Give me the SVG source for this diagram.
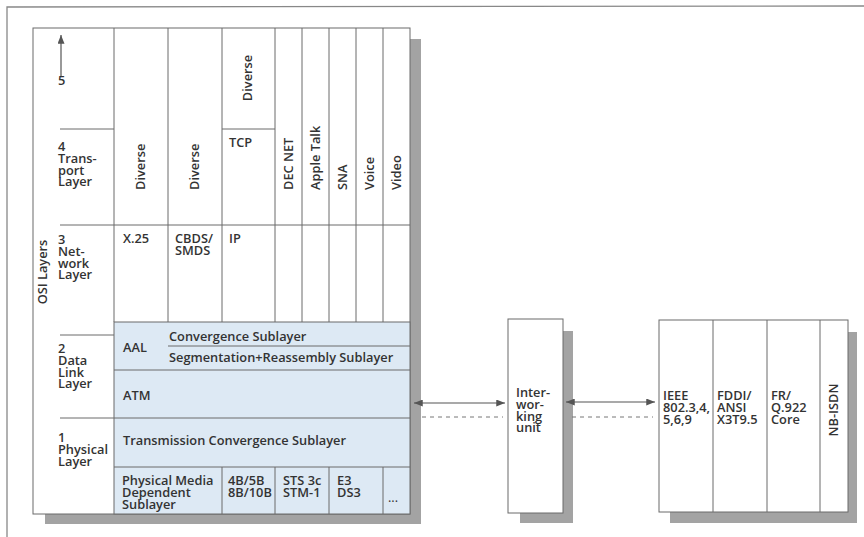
<svg xmlns="http://www.w3.org/2000/svg" width="864" height="537" viewBox="0 0 864 537">
<defs>
<style>
.t{font-family:"Open Sans","Liberation Sans",sans-serif;font-size:12.8px;fill:#333;font-weight:600}
.ln{stroke:#6a6a6a;stroke-width:1;fill:none}
.box{fill:#fff;stroke:#6a6a6a;stroke-width:1}
.blue{fill:#dde9f4;stroke:#6a6a6a;stroke-width:1}
.sh{fill:#a3a3a3}
.con{stroke:#555;stroke-width:1.2;fill:none}
.dash{stroke:#777;stroke-width:1;stroke-dasharray:4 4;fill:none}
</style>
<marker id="ah" viewBox="0 0 10 8" refX="10" refY="4" markerWidth="9" markerHeight="7" orient="auto-start-reverse" markerUnits="userSpaceOnUse">
<path d="M0,0 L10,4 L0,8 Z" fill="#555"/>
</marker>
</defs>
<rect width="864" height="537" fill="#fff"/>
<path d="M7,537 L7,7 L864,6" stroke="#888" stroke-width="1.3" fill="none"/>

<g id="osi-stack">
<rect class="sh" x="45" y="39" width="376" height="485"/>
<rect class="box" x="33" y="28" width="377" height="486"/>
<rect class="blue" x="114" y="322" width="296" height="192"/>
<path class="ln" d="M114,28 V322 M168,28 V322 M222,28 V322 M275,28 V322 M302,28 V322 M329,28 V322 M356,28 V322 M383,28 V322"/>
<path class="ln" d="M60,129 H114 M222,129 H275 M60,225 H410 M60,335 H114 M60,418 H410 M168,346 H410 M114,370 H410 M114,467 H410"/>
<path class="ln" d="M222,467 V514 M275,467 V514 M329,467 V514 M383,467 V514"/>
<line class="con" x1="61" y1="76" x2="61" y2="35" marker-end="url(#ah)"/>
<text class="t" transform="translate(47,272) rotate(-90)" text-anchor="middle">OSI Layers</text>
<text class="t" x="58" y="85">5</text>
<text class="t" x="58" y="151">4<tspan x="58" dy="11.8">Trans-</tspan><tspan x="58" dy="11.8">port</tspan><tspan x="58" dy="11.8">Layer</tspan></text>
<text class="t" x="58" y="244">3<tspan x="58" dy="11.8">Net-</tspan><tspan x="58" dy="11.8">work</tspan><tspan x="58" dy="11.8">Layer</tspan></text>
<text class="t" x="58" y="353">2<tspan x="58" dy="11.8">Data</tspan><tspan x="58" dy="11.8">Link</tspan><tspan x="58" dy="11.8">Layer</tspan></text>
<text class="t" x="58" y="442">1<tspan x="58" dy="11.8">Physical</tspan><tspan x="58" dy="11.8">Layer</tspan></text>
<text class="t" transform="translate(145,190) rotate(-90)">Diverse</text>
<text class="t" transform="translate(199,190) rotate(-90)">Diverse</text>
<text class="t" transform="translate(252,78) rotate(-90)" text-anchor="middle">Diverse</text>
<text class="t" transform="translate(293,190) rotate(-90)">DEC NET</text>
<text class="t" transform="translate(320,190) rotate(-90)">Apple Talk</text>
<text class="t" transform="translate(347,190) rotate(-90)">SNA</text>
<text class="t" transform="translate(374,190) rotate(-90)">Voice</text>
<text class="t" transform="translate(401,190) rotate(-90)">Video</text>
<text class="t" x="229" y="147">TCP</text>
<text class="t" x="123" y="243">X.25</text>
<text class="t" x="175" y="243">CBDS/<tspan x="175" dy="11.8">SMDS</tspan></text>
<text class="t" x="229" y="243">IP</text>
<text class="t" x="123" y="352">AAL</text>
<text class="t" x="169" y="341">Convergence Sublayer</text>
<text class="t" x="169" y="362">Segmentation+Reassembly Sublayer</text>
<text class="t" x="123" y="400">ATM</text>
<text class="t" x="123" y="445">Transmission Convergence Sublayer</text>
<text class="t" x="122" y="485">Physical Media<tspan x="122" dy="11.8">Dependent</tspan><tspan x="122" dy="11.8">Sublayer</tspan></text>
<text class="t" x="228" y="485">4B/5B<tspan x="228" dy="11.8">8B/10B</tspan></text>
<text class="t" x="283" y="485">STS 3c<tspan x="283" dy="11.8">STM-1</tspan></text>
<text class="t" x="337" y="485">E3<tspan x="337" dy="11.8">DS3</tspan></text>
<text class="t" x="388" y="502" style="font-weight:400">...</text>
</g>

<g id="interworking-unit">
<rect class="sh" x="520" y="331" width="53" height="192"/>
<rect class="box" x="508" y="319" width="55" height="194"/>
<text class="t" x="516" y="397">Inter-<tspan x="516" dy="11.8">wor-</tspan><tspan x="516" dy="11.8">king</tspan><tspan x="516" dy="11.8">unit</tspan></text>
</g>

<g id="lan-wan">
<rect class="sh" x="670" y="332" width="187" height="191"/>
<rect class="box" x="659" y="320" width="189" height="192"/>
<path class="ln" d="M713,320 V512 M767,320 V512 M820,320 V512"/>
<text class="t" x="663" y="400">IEEE<tspan x="663" dy="11.8">802.3,4,</tspan><tspan x="663" dy="11.8">5,6,9</tspan></text>
<text class="t" x="717" y="400">FDDI/<tspan x="717" dy="11.8">ANSI</tspan><tspan x="717" dy="11.8">X3T9.5</tspan></text>
<text class="t" x="771" y="400">FR/<tspan x="771" dy="11.8">Q.922</tspan><tspan x="771" dy="11.8">Core</tspan></text>
<text class="t" transform="translate(838,410) rotate(-90)" text-anchor="middle">NB-ISDN</text>
</g>

<g id="connectors">
<line class="con" x1="414" y1="403" x2="505" y2="403" marker-start="url(#ah)" marker-end="url(#ah)"/>
<line class="dash" x1="422" y1="417" x2="503" y2="417"/>
<line class="con" x1="566" y1="402" x2="655" y2="402" marker-start="url(#ah)" marker-end="url(#ah)"/>
<line class="dash" x1="572" y1="417" x2="653" y2="417"/>
</g>
</svg>
